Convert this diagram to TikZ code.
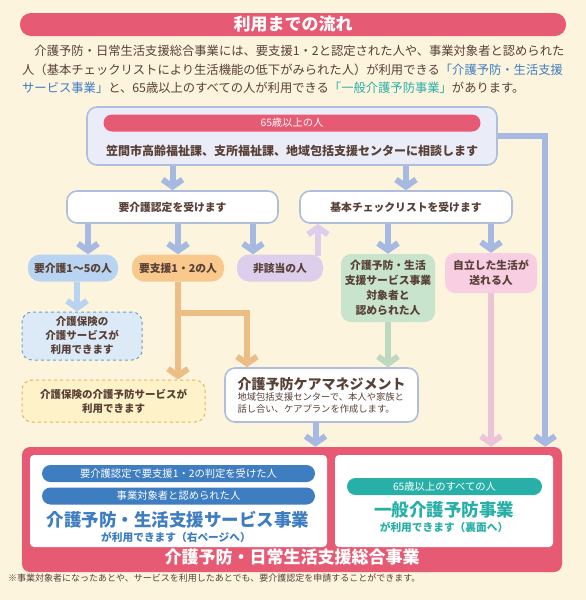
\documentclass[tikz,border=0pt]{standalone}
\usepackage{fontspec}
\setmainfont{Noto Sans CJK JP}
\usepackage{tikz}
\usetikzlibrary{arrows.meta,positioning,calc}
\usepackage{xcolor}
\definecolor{cBg}{RGB}{253,244,222}
\definecolor{cRed}{RGB}{230,90,115}
\definecolor{cText}{RGB}{88,64,54}
\definecolor{cLav}{RGB}{234,236,248}
\definecolor{cWave}{RGB}{176,190,222}
\definecolor{cArrow}{RGB}{166,185,225}
\definecolor{cBluePill}{RGB}{184,212,242}
\definecolor{cOrange}{RGB}{248,200,140}
\definecolor{cPurple}{RGB}{221,206,236}
\definecolor{cGreen}{RGB}{200,228,204}
\definecolor{cPink}{RGB}{248,206,226}
\definecolor{cSvBlue}{RGB}{220,234,248}
\definecolor{cSvBorder}{RGB}{96,164,204}
\definecolor{cYellow}{RGB}{254,243,200}
\definecolor{cYBorder}{RGB}{232,180,96}
\definecolor{cDBlue}{RGB}{62,126,192}
\definecolor{cTeal}{RGB}{40,176,168}
\tikzset{
  basebox/.style={rectangle,rounded corners=10pt,align=center,text=cText,
                  inner sep=1pt,font=\fontsize{10.8}{15}\selectfont\bfseries},
  wavenode/.style={basebox,fill=white,draw=cWave,line width=1.6pt},
  pillnode/.style={basebox,rounded corners=12pt,minimum height=27pt},
  dashnode/.style={basebox,dashed,line width=1pt,
                   font=\fontsize{10.5}{14}\selectfont\bfseries},
  barnode/.style={rectangle,rounded corners=8.5pt,minimum height=17pt,
                  text=white,inner sep=0pt,font=\fontsize{10.3}{12}\selectfont},
  paranode/.style={anchor=west,inner sep=0pt,text=cText,
                   font=\fontsize{12.3}{14}\selectfont},
  panel/.style={rectangle,rounded corners=4pt,fill=white,inner sep=0pt},
  arr/.style={line width=6pt,-{Straight Barb[length=7pt,width=20pt]}},
  bluarr/.style={arr,color=cArrow},
  ltbarr/.style={arr,color=cBluePill},
  ornarr/.style={arr,color=cOrange!95!black},
  purarr/.style={arr,color=cPurple},
  grnarr/.style={arr,color=cGreen!95!black},
  pnkarr/.style={arr,color=cPink!95!black}
}
\begin{document}
\begin{tikzpicture}[x=1pt,y=-1pt]
  \useasboundingbox[fill=cBg] (0,0) rectangle (586,600);

  % heading and lead text
  \node[rectangle,rounded corners=11pt,fill=cRed,minimum width=546pt,
        minimum height=23pt,text=white,font=\fontsize{17}{18}\selectfont\bfseries]
        (title) at (293,24.5) {利用までの流れ};
  \node[paranode] (lead1) at (22,51)
      {　介護予防・日常生活支援総合事業には、要支援1・2と認定された人や、事業対象者と認められた};
  \node[paranode] (lead2) at (22,70)
      {人（基本チェックリストにより生活機能の低下がみられた人）が利用できる\textcolor{cDBlue}{「介護予防・生活支援}};
  \node[paranode] (lead3) at (22,88)
      {\textcolor{cDBlue}{サービス事業」}と、65歳以上のすべての人が利用できる\textcolor{cTeal}{「一般介護予防事業」}があります。};

  % consultation
  \node[wavenode,fill=cLav,minimum width=410pt,minimum height=58pt]
      (consult) at (292,136) {};
  \node[barnode,fill=cRed,minimum width=377pt] (age65) at (292,123) {65歳以上の人};
  \node[basebox,font=\fontsize{12}{14}\selectfont\bfseries] (soudan) at (292,151)
      {笠間市高齢福祉課、支所福祉課、地域包括支援センターに相談します};

  % two checks
  \node[wavenode,minimum width=211pt,minimum height=32pt] (nintei) at (172.5,207)
      {要介護認定を受けます};
  \node[wavenode,minimum width=212pt,minimum height=32pt] (kihon) at (406,207)
      {基本チェックリストを受けます};

  % results
  \node[pillnode,fill=cBluePill,minimum width=90pt] (yokaigo) at (73,268) {要介護1～5の人};
  \node[pillnode,fill=cOrange,minimum width=92pt] (yoshien) at (178,268) {要支援1・2の人};
  \node[pillnode,fill=cPurple,minimum width=86pt] (higaito) at (280,268) {非該当の人};
  \node[basebox,fill=cGreen,minimum width=94pt,minimum height=68pt] (taisho) at (388,288)
      {介護予防・生活\\支援サービス事業\\対象者と\\認められた人};
  \node[basebox,fill=cPink,minimum width=92pt,minimum height=40pt] (jiritsu) at (491,273)
      {自立した生活が\\送れる人};

  % services
  \node[dashnode,fill=cSvBlue,draw=cSvBorder,minimum width=120pt,minimum height=48pt]
      (kaigosv) at (82,336) {介護保険の\\介護サービスが\\利用できます};
  \node[dashnode,fill=cYellow,draw=cYBorder,minimum width=183pt,minimum height=42pt]
      (yobosv) at (113.5,401) {介護保険の介護予防サービスが\\利用できます};
  \node[wavenode,align=left,minimum width=193pt,minimum height=54pt,
        font=\fontsize{9.3}{12}\selectfont] (care) at (321.5,395)
      {\fontsize{14}{16}\selectfont\bfseries 介護予防ケアマネジメント\\[-1pt]
       地域包括支援センターで、本人や家族と\\話し合い、ケアプランを作成します。};

  % general support project
  \node[rectangle,rounded corners=8pt,fill=cRed,minimum width=540pt,minimum height=125pt]
      (frame) at (292,509.5) {};
  \node[panel,minimum width=297pt,minimum height=92pt] (lpanel) at (178.5,501) {};
  \node[panel,minimum width=218pt,minimum height=92pt] (rpanel) at (444,501) {};
  \node[barnode,fill=cDBlue,minimum width=273pt] (hantei) at (178.5,473.5)
      {要介護認定で要支援1・2の判定を受けた人};
  \node[barnode,fill=cDBlue,minimum width=273pt] (mitome) at (178.5,496)
      {事業対象者と認められた人};
  \node[text=cDBlue,inner sep=0pt,font=\fontsize{17.5}{19}\selectfont\bfseries]
      (sabisu) at (178,520) {介護予防・生活支援サービス事業};
  \node[text=cDBlue,inner sep=0pt,font=\fontsize{10.7}{12}\selectfont\bfseries]
      (sabisu2) at (176,537) {が利用できます（右ページへ）};
  \node[barnode,fill=cTeal,minimum width=195pt] (subete) at (444.5,486.5)
      {65歳以上のすべての人};
  \node[text=cTeal,inner sep=0pt,font=\fontsize{17.5}{19}\selectfont\bfseries]
      (ippan) at (444,510) {一般介護予防事業};
  \node[text=cTeal,inner sep=0pt,font=\fontsize{10.7}{12}\selectfont\bfseries]
      (ippan2) at (444,527) {が利用できます（裏面へ）};
  \node[text=white,inner sep=0pt,font=\fontsize{17}{19}\selectfont\bfseries]
      (sougou) at (292,557) {介護予防・日常生活支援総合事業};
  \node[paranode,font=\fontsize{9}{10}\selectfont] (note) at (8,578)
      {※事業対象者になったあとや、サービスを利用したあとでも、要介護認定を申請することができます。};

  % arrows
  \draw[bluarr] (consult.south -| nintei) -- (nintei.north);
  \draw[bluarr] (consult.south -| kihon) -- (kihon.north);
  \draw[bluarr] (consult.east) -| ([xshift=-17pt]frame.north east);
  \draw[bluarr] ([xshift=15pt]yokaigo.north |- nintei.south) -- ([xshift=15pt]yokaigo.north);
  \draw[bluarr] (yoshien.north |- nintei.south) -- (yoshien.north);
  \draw[bluarr] ([xshift=-27pt]higaito.north |- nintei.south) -- ([xshift=-27pt]higaito.north);
  \draw[purarr] ([xshift=38pt,yshift=-2pt]higaito.north) -- ([xshift=38pt]higaito.north |- kihon.south);
  \draw[bluarr] (taisho.north |- kihon.south) -- (taisho.north);
  \draw[bluarr] (jiritsu.north |- kihon.south) -- (jiritsu.north);
  \draw[ltbarr] ([xshift=4pt]yokaigo.south) -- ([xshift=4pt]yokaigo.south |- kaigosv.north);
  \draw[ornarr] (yoshien.south) -- (yoshien.south |- yobosv.north);
  \draw[ornarr] ([yshift=-31pt]yoshien.south) -| ([xshift=-74.5pt]care.north);
  \draw[grnarr] (taisho.south) -- (taisho.south |- care.north);
  \draw[pnkarr] (jiritsu.south) -- (jiritsu.south |- frame.north);
  \draw[bluarr] ([xshift=-6pt]care.south) -- ([xshift=-6pt]care.south |- frame.north);
\end{tikzpicture}
\end{document}
